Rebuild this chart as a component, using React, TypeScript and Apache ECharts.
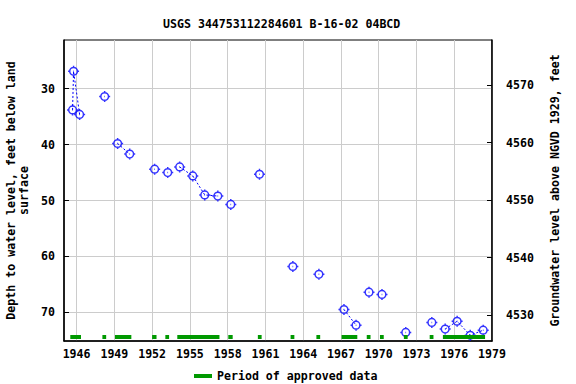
import React, { useEffect, useRef } from "react";
import * as echarts from "echarts";

const title = "USGS 344753112284601 B-16-02 04BCD";
const leftAxisName = "Depth to water level, feet below land\nsurface";
const rightAxisName = "Groundwater level above NGVD 1929, feet";
const legendName = "Period of approved data";

const xTicks = [1946, 1949, 1952, 1955, 1958, 1961, 1964, 1967, 1970, 1973, 1976, 1979];
const depthTicks = [30, 40, 50, 60, 70];
const elevTicks = [4530, 4540, 4550, 4560, 4570];

// measurement dates (decimal years) and depths (ft below land surface)
const years = [
  1945.68, 1945.76, 1946.24, 1948.23, 1949.26, 1950.22, 1952.2, 1953.24, 1954.19, 1955.23,
  1956.18, 1957.22, 1958.25, 1960.53, 1963.18, 1965.25, 1967.24, 1968.2, 1969.23, 1970.26,
  1972.15, 1974.22, 1975.28, 1976.23, 1977.27, 1978.3,
];
const depths = [
  33.8, 26.9, 34.6, 31.4, 39.8, 41.7, 44.4, 45.0, 44.0, 45.6,
  49.0, 49.2, 50.7, 45.3, 61.8, 63.2, 69.5, 72.3, 66.4, 66.8,
  73.6, 71.8, 73.0, 71.6, 74.1, 73.2,
];
// group id per measurement: consecutive points with same id are joined by a dotted line
const groups = [
  1, 1, 1, 2, 3, 3, 4, 5, 6, 6,
  6, 6, 7, 8, 9, 10, 11, 11, 12, 13,
  14, 15, 16, 16, 16, 16,
];
// approved periods [start, end] in decimal years
const approvedStart = [1945.5, 1948.05, 1949.05, 1952.0, 1953.05, 1954.0, 1958.05, 1960.4, 1963.0, 1965.05, 1967.05, 1969.05, 1970.1, 1972.0, 1974.05, 1975.1];
const approvedEnd = [1946.35, 1948.35, 1950.35, 1952.35, 1953.35, 1957.35, 1958.4, 1960.7, 1963.3, 1965.35, 1968.3, 1969.35, 1970.4, 1972.3, 1974.35, 1978.45];

const FONT = "DejaVu Sans Mono";
const FS = 11.6;
const BLUE = "#0000ff";
const GREEN = "#009900";

const markerPath =
  "path://M17 10 C17 13.87 13.87 17 10 17 C6.13 17 3 13.87 3 10 C3 6.13 6.13 3 10 3 C13.87 3 17 6.13 17 10 Z " +
  "M10 0 L10 3 M10 17 L10 20 M0 10 L3 10 M17 10 L20 10 M9.4 10 L10.6 10";

export default function App() {
  const ref = useRef<HTMLDivElement>(null);
  useEffect(() => {
    if (!ref.current) return;
    const chart = echarts.init(ref.current, undefined, { renderer: "svg" });

    const lineSeries: any[] = [];
    const ids = Array.from(new Set(groups));
    ids.forEach((g) => {
      const pts: number[][] = [];
      years.forEach((y, i) => {
        if (groups[i] === g) pts.push([y, depths[i]]);
      });
      if (pts.length > 1) {
        lineSeries.push({
          type: "line",
          data: pts,
          showSymbol: false,
          symbol: "none",
          silent: true,
          lineStyle: { color: BLUE, width: 1, type: [2, 2] },
          z: 2,
        });
      }
    });

    const axisLabelStyle = { fontFamily: FONT, fontSize: FS, fontWeight: "bold", color: "#000" };

    chart.setOption({
      animation: false,
      backgroundColor: "#fff",
      title: {
        text: title,
        left: 158,
        top: 13,
        textStyle: { fontFamily: FONT, fontSize: FS, fontWeight: "bold", color: "#000" },
      },
      legend: {
        data: [legendName],
        left: 189,
        top: 365,
        icon: "rect",
        itemWidth: 18,
        itemHeight: 4,
        itemGap: 5,
        textStyle: { fontFamily: FONT, fontSize: FS, fontWeight: "bold", color: "#000", padding: [0, 0, 0, 0] },
      },
      grid: {
        left: 64,
        right: 84,
        top: 40,
        bottom: 43,
        containLabel: false,
        outerBoundsMode: "none",
        show: true,
        borderColor: "#000",
        borderWidth: 1,
        backgroundColor: "transparent",
      },
      xAxis: {
        type: "value",
        min: 1945,
        max: 1979,
        axisLine: { show: true, lineStyle: { color: "#000", width: 1.5 } },
        axisTick: { show: false, customValues: xTicks },
        axisLabel: { ...axisLabelStyle, margin: 7, customValues: xTicks, formatter: (v: number) => String(v) },
        splitLine: { show: true, lineStyle: { color: "#cccccc", width: 1 } },
      },
      yAxis: [
        {
          type: "value",
          min: 21.29,
          max: 75.13,
          inverse: true,
          position: "left",
          name: leftAxisName,
          nameLocation: "middle",
          nameRotate: 90,
          nameGap: 34,
          nameTextStyle: { fontFamily: FONT, fontSize: FS, fontWeight: "bold", color: "#000", lineHeight: 13 },
          axisLine: { show: true, lineStyle: { color: "#000", width: 1.5 } },
          axisTick: { show: true, inside: true, length: 5, customValues: depthTicks, lineStyle: { color: "#000" } },
          axisLabel: { ...axisLabelStyle, margin: 9, customValues: depthTicks, formatter: (v: number) => String(v) },
          splitLine: { show: true, lineStyle: { color: "#cccccc", width: 1 } },
        },
        {
          type: "value",
          min: 4525.48,
          max: 4577.83,
          position: "right",
          name: rightAxisName,
          nameLocation: "middle",
          nameRotate: 90,
          nameGap: 57,
          nameTextStyle: { fontFamily: FONT, fontSize: FS, fontWeight: "bold", color: "#000" },
          axisLine: { show: true, lineStyle: { color: "#000", width: 1.5 } },
          axisTick: { show: true, inside: true, length: 5, customValues: elevTicks, lineStyle: { color: "#000" } },
          axisLabel: { ...axisLabelStyle, margin: 14, customValues: elevTicks, formatter: (v: number) => String(v) },
          splitLine: { show: false },
        },
      ],
      series: [
        ...lineSeries,
        {
          type: "scatter",
          data: years.map((y, i) => [y, depths[i]]),
          symbol: markerPath,
          symbolSize: 11,
          itemStyle: { color: "transparent", borderColor: BLUE, borderWidth: 1.5 },
          z: 3,
        },
        {
          name: legendName,
          type: "custom",
          data: approvedStart.map((s, i) => [s, approvedEnd[i]]),
          encode: { x: [0, 1] },
          itemStyle: { color: GREEN },
          renderItem: (params: any, api: any) => {
            const s = api.coord([api.value(0), 50]);
            const e = api.coord([api.value(1), 50]);
            const cs = params.coordSys;
            return {
              type: "rect",
              shape: { x: s[0], y: cs.y + cs.height - 6, width: e[0] - s[0], height: 4 },
              style: { fill: GREEN },
            };
          },
          z: 4,
        },
      ],
    });
    return () => chart.dispose();
  }, []);
  return <div ref={ref} style={{ width: 576, height: 384, position: "absolute", left: 0, top: 0 }} />;
}
